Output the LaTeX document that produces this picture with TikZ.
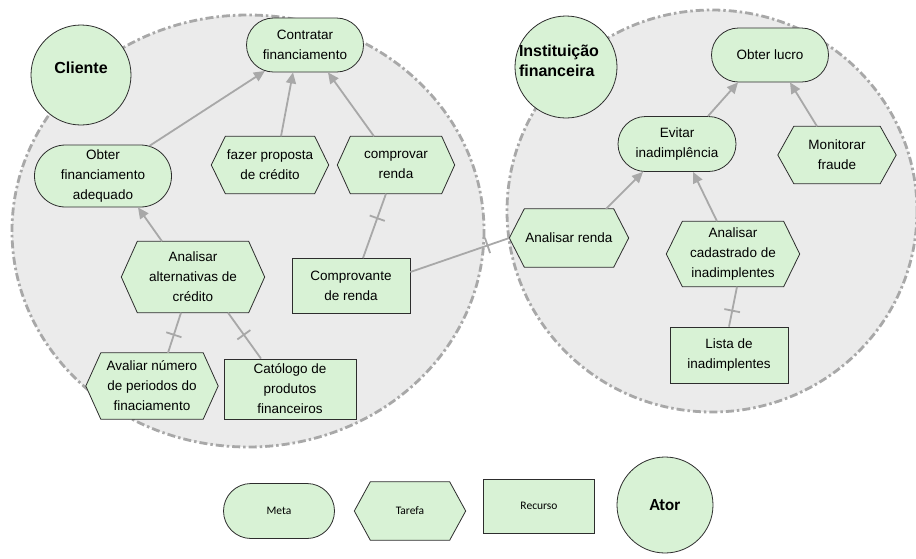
\documentclass[tikz,border=0pt]{standalone}
\usepackage{fontspec}
\setmainfont{Liberation Sans}
\newfontfamily\legendf{Carlito}
\usetikzlibrary{shapes.misc,shapes.geometric,arrows.meta,decorations.markings,calc}
\definecolor{nodefill}{RGB}{216,242,213}
\definecolor{nodeborder}{RGB}{45,45,45}
\definecolor{bgfill}{RGB}{235,235,235}
\definecolor{boundgray}{RGB}{168,168,168}
\definecolor{linegray}{RGB}{168,168,168}
\pgfdeclarelayer{bg}
\pgfdeclarelayer{shp}
\pgfsetlayers{bg,shp,main}
\begin{document}
\begin{tikzpicture}[x=1pt,y=-1pt,
  txt/.style={font=\fontsize{13.5}{20}\selectfont, align=center, inner sep=0pt, text=black},
  meta/.style={txt, draw=nodeborder, fill=nodefill, line width=0.8pt, rounded rectangle},
  res/.style={txt, draw=nodeborder, fill=nodefill, line width=0.8pt, rectangle},
  task/.style={txt, rectangle},
  actor/.style={draw=nodeborder, fill=nodefill, line width=0.8pt, circle, inner sep=0pt},
  hexst/.style={draw=nodeborder, fill=nodefill, line width=0.8pt, line join=miter},
  bound/.style={fill=bgfill, draw=boundgray, line width=2.8pt, dash pattern=on 8pt off 3pt on 2.5pt off 3pt},
  link/.style={draw=linegray, line width=1.8pt},
  arr/.style={link, -{Triangle[length=11pt,width=10pt]}},
  dec/.style={link, postaction={decorate, decoration={markings, mark=at position #1 with {\draw[linegray, line width=1.8pt] (0,-8pt) -- (0,8pt);}}}},
  leg/.style={font=\legendf\fontsize{11.5}{14}\selectfont, align=center, inner sep=0pt, text=black},
]
\useasboundingbox (0,0) rectangle (916,558);
\begin{pgfonlayer}{bg}
\fill[white] (0,0) rectangle (916,558);
\draw[bound] (248,231) ellipse [x radius=236, y radius=216];
\draw[bound] (712,211) ellipse [x radius=205, y radius=201];
\end{pgfonlayer}

% actors
\node[actor, minimum size=100pt] (cliente) at (81,75) {};
\node[font=\bfseries\fontsize{16}{20}\selectfont, inner sep=0pt] (clientet) at (81,68) {Cliente};
\node[actor, minimum size=102pt] (inst) at (566,67) {};
\node[font=\bfseries\fontsize{16}{20}\selectfont, align=left, inner sep=0pt] (instt) at (559,61) {Instituição\\financeira};

% metas
\node[meta, minimum width=117pt, minimum height=54pt] (contratar) at (305,45) {Contratar\\financiamento};
\node[meta, minimum width=137pt, minimum height=62pt] (obterfin) at (103,176) {Obter\\financiamento\\adequado};
\node[meta, minimum width=117pt, minimum height=54pt] (obterlucro) at (770,55) {Obter lucro};
\node[meta, minimum width=118pt, minimum height=55pt] (evitar) at (677,144) {Evitar\\inadimplência};

% tasks
\node[task, minimum width=117pt, minimum height=57pt] (fazer) at (270,165) {fazer proposta\\de crédito};
\node[task, minimum width=117pt, minimum height=57pt] (comprovar) at (396,165) {comprovar\\renda};
\node[task, minimum width=143pt, minimum height=71pt] (analisar) at (193,277) {Analisar\\alternativas de\\crédito};
\node[task, minimum width=132pt, minimum height=66pt] (avaliar) at (152,386) {Avaliar número\\de periodos do\\finaciamento};
\node[task, minimum width=118pt, minimum height=57pt] (monitorar) at (837,155) {Monitorar\\fraude};
\node[task, minimum width=119pt, minimum height=58pt] (anrenda) at (569,238) {Analisar renda};
\node[task, minimum width=133pt, minimum height=65pt] (ancad) at (733,254) {Analisar\\cadastrado de\\inadimplentes};

% resources
\node[res, minimum width=118pt, minimum height=55pt] (comprovante) at (351,286) {Comprovante\\de renda};
\node[res, minimum width=132pt, minimum height=60pt] (catalogo) at (290,389) {Católogo de\\produtos\\financeiros};
\node[res, minimum width=118pt, minimum height=56pt] (lista) at (729,355) {Lista de\\inadimplentes};

% legend
\node[leg, draw=nodeborder, fill=nodefill, line width=0.8pt, rounded rectangle, minimum width=111pt, minimum height=55pt] (lmeta) at (279,511) {Meta};
\node[leg, minimum width=111pt, minimum height=58pt] (ltarefa) at (410,511) {Tarefa};
\node[leg, draw=nodeborder, fill=nodefill, line width=0.8pt, minimum width=111pt, minimum height=54pt] (lrecurso) at (539,506) {Recurso};
\node[actor, minimum size=96pt, font=\legendf\bfseries\fontsize{17}{20}\selectfont] (lator) at (665,505) {Ator};

\begin{pgfonlayer}{shp}
\foreach \n/\d in {fazer/14,comprovar/13,analisar/16,avaliar/15,monitorar/16,anrenda/15,ancad/16,ltarefa/16}
  \draw[hexst] (\n.west) -- ([xshift=\d pt]\n.north west) -- ([xshift=-\d pt]\n.north east) -- (\n.east) -- ([xshift=-\d pt]\n.south east) -- ([xshift=\d pt]\n.south west) -- cycle;
\end{pgfonlayer}

% connectors
\draw[arr] (obterfin) -- (contratar);
\draw[arr] ([xshift=11pt]fazer.north) -- ([xshift=-12pt]contratar.south);
\draw[arr] ([xshift=-22pt]comprovar.north) -- ([xshift=23pt]contratar.south);
\draw[arr] ([xshift=-31pt]analisar.north) -- ([xshift=35pt]obterfin.south);
\draw[dec=0.62] ([xshift=12pt]comprovante.north) -- ([xshift=-10pt]comprovar.south);
\draw[dec=0.45] ([xshift=16pt]avaliar.north) -- ([xshift=-12pt]analisar.south);
\draw[dec=0.52] ([xshift=-29pt]catalogo.north) -- ([xshift=35pt]analisar.south);
\draw[dec=0.78] ([yshift=14pt]comprovante.east) -- (anrenda.west);
\draw[arr] ([xshift=37pt]anrenda.north) -- ([xshift=-34pt]evitar.south);
\draw[arr] ([xshift=-16pt]ancad.north) -- ([xshift=16pt]evitar.south);
\draw[arr] ([xshift=31pt]evitar.north) -- ([xshift=-32pt]obterlucro.south);
\draw[arr] ([xshift=-20pt]monitorar.north) -- ([xshift=20pt]obterlucro.south);
\draw[dec=0.4] (lista.north) -- ([xshift=4pt]ancad.south);
\end{tikzpicture}
\end{document}
